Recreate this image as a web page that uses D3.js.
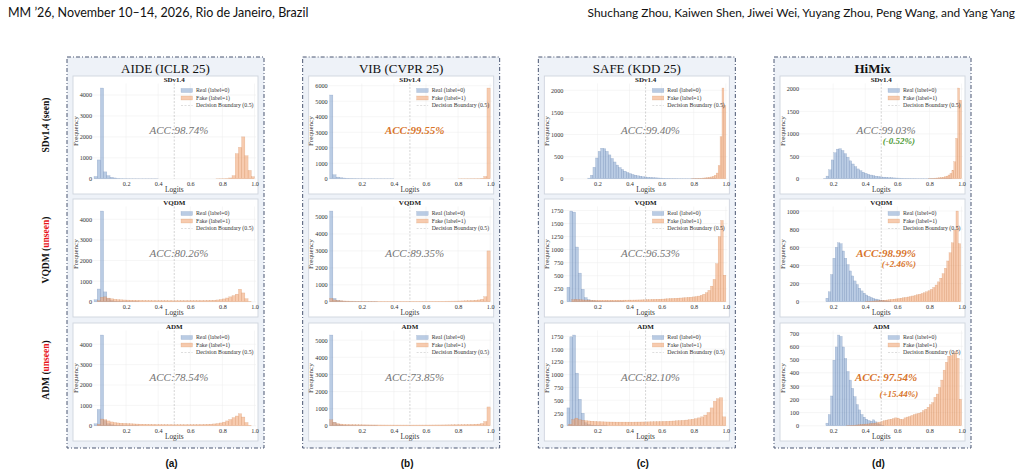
<!DOCTYPE html>
<html><head><meta charset="utf-8">
<script src="https://cdn.jsdelivr.net/npm/d3@7"></script>
<style>body{margin:0;background:#fff}svg{display:block}</style>
</head><body>
<svg id="fig" width="1021" height="474"></svg>
<script>
// ---------------- DATA ----------------
const headerLeft = "MM \u201926, November 10\u201314, 2026, Rio de Janeiro, Brazil";
const headerRight = "Shuchang Zhou, Kaiwen Shen, Jiwei Wei, Yuyang Zhou, Peng Wang, and Yang Yang";
const methodTitles = ["AIDE (ICLR 25)", "VIB (CVPR 25)", "SAFE (KDD 25)", "HiMix"];
const methodIsOurs = [false, false, false, true];
const datasetNames = ["SDv1.4", "VQDM", "ADM"];
const rowTags = ["seen", "unseen", "unseen"];
const panelLetters = ["(a)", "(b)", "(c)", "(d)"];
const legendLabels = ["Real (label=0)", "Fake (label=1)", "Decision Boundary (0.5)"];
const xTickValues = [0.2, 0.4, 0.6, 0.8, 1.0];
const yTickSteps = [[1000, 1000, 1000], [1000, 1000, 1000], [500, 250, 250], [500, 200, 100]];
const accLabels = [
  ["ACC:98.74%", "ACC:80.26%", "ACC:78.54%"],
  ["ACC:99.55%", "ACC:89.35%", "ACC:73.85%"],
  ["ACC:99.40%", "ACC:96.53%", "ACC:82.10%"],
  ["ACC:99.03%", "ACC:98.99%", "ACC: 97.54%"]
];
const accIsBest = [[false, false, false], [true, false, false], [false, false, false], [false, true, true]];
const deltaLabels = [[null, null, null], [null, null, null], [null, null, null], ["(-0.52%)", "(+2.46%)", "(+15.44%)"]];

// histogram counts (bin start / bin width given in realBins / fakeBins)
const aideSdReal = [110, 900, 4330, 330, 150, 70, 40, 25, 15, 10, 8, 6, 5, 4, 3, 3, 2, 2, 2, 2];
const aideSdFake = [5, 8, 10, 20, 40, 150, 1200, 1500, 2000, 1100, 400, 100];
const aideVqReal = [100, 620, 4400, 480, 150, 60, 30, 20, 15, 10, 8, 6, 5, 4];
const aideVqFake = [0, 60, 220, 240, 180, 145, 120, 105, 95, 88, 82, 78, 74, 70, 67, 64, 62, 60, 58, 57, 56, 55, 54, 53, 52, 52, 52, 53, 54, 55, 56, 57, 58, 60, 62, 65, 70, 78, 90, 110, 140, 185, 240, 300, 370, 610, 430, 150, 25, 0];
const aideAdReal = [100, 800, 4450, 250, 100, 50, 30, 20, 15, 10, 8, 6, 5, 4];
const aideAdFake = [0, 80, 330, 300, 240, 190, 160, 140, 125, 115, 105, 98, 92, 86, 80, 76, 72, 68, 65, 62, 60, 58, 56, 55, 54, 53, 52, 52, 53, 54, 55, 57, 59, 62, 66, 72, 80, 92, 110, 140, 180, 240, 310, 400, 480, 590, 430, 160, 30, 0];

const vibSdReal = [5400, 260, 110, 70, 50, 40, 30, 25, 20, 15, 12, 10, 10, 8, 8, 6, 6, 5, 5, 5];
const vibSdFake = [5, 6, 8, 10, 12, 15, 20, 40, 150, 5850];
const vibVqReal = [5350, 200, 80, 50, 35, 25, 20, 15, 12, 10, 8, 7, 6, 5, 5];
const vibVqFake = [200, 110, 75, 60, 50, 45, 40, 38, 36, 35, 34, 33, 32, 31, 30, 30, 30, 30, 30, 30, 30, 30, 30, 30, 30, 30, 30, 30, 30, 30, 31, 32, 33, 34, 35, 36, 38, 40, 42, 45, 48, 52, 58, 65, 75, 90, 110, 150, 300, 3000];
const vibAdReal = [5300, 200, 80, 50, 35, 25, 20, 15, 12, 10, 8, 7, 6, 5, 5];
const vibAdFake = [350, 200, 130, 100, 85, 75, 70, 65, 60, 58, 56, 54, 52, 50, 49, 48, 47, 46, 45, 45, 44, 44, 44, 44, 44, 44, 44, 44, 45, 45, 46, 47, 48, 49, 50, 52, 54, 56, 58, 60, 63, 66, 70, 75, 80, 90, 100, 130, 250, 1100];

const safeSdReal = [15, 80, 260, 470, 620, 690, 680, 620, 540, 460, 380, 310, 255, 210, 172, 142, 118, 98, 82, 68, 57, 48, 41, 35, 30, 26, 22, 19, 16, 14, 12, 10, 9, 8, 7, 6, 5, 5, 4, 4, 3, 3, 3, 2, 2, 2, 2, 2, 2, 2];
const safeSdFake = [5, 6, 8, 10, 12, 14, 17, 21, 26, 33, 42, 56, 80, 130, 300, 950, 2050, 1650];
const safeVqReal = [280, 1740, 1720, 1050, 550, 240, 80, 40, 25, 18, 14, 12, 10, 9, 8, 7, 6, 5, 5, 4];
const safeVqFake = [40, 45, 42, 38, 35, 33, 32, 31, 30, 30, 30, 30, 30, 30, 30, 30, 30, 30, 31, 31, 32, 32, 33, 33, 34, 35, 36, 37, 38, 40, 42, 44, 46, 48, 50, 52, 55, 58, 61, 64, 67, 70, 73, 76, 80, 84, 88, 94, 100, 110, 125, 145, 175, 220, 300, 430, 730, 1250, 1560, 510];
const safeAdReal = [350, 1740, 1775, 1030, 520, 245, 60, 25, 15, 10, 8, 6, 5, 4];
const safeAdFake = [30, 120, 150, 120, 110, 100, 95, 90, 85, 80, 78, 76, 75, 74, 73, 72, 72, 72, 72, 72, 72, 73, 74, 75, 76, 77, 78, 80, 82, 84, 86, 88, 91, 94, 98, 102, 106, 112, 120, 128, 140, 155, 175, 210, 260, 350, 480, 530, 550, 175];

const himixSdReal = [10, 60, 200, 420, 580, 660, 670, 630, 560, 480, 400, 330, 270, 220, 180, 148, 122, 100, 84, 70, 59, 50, 43, 37, 32, 27, 23, 20, 17, 15, 13, 11, 10, 9, 8, 7, 6, 5, 5, 4, 4, 3, 3, 3, 2, 2, 2, 2, 2, 2];
const himixSdFake = [8, 10, 12, 15, 18, 22, 28, 35, 45, 60, 85, 120, 190, 380, 900, 2020, 1750];
const himixVqReal = [40, 110, 300, 480, 600, 650, 640, 560, 480, 410, 340, 285, 230, 190, 150, 120, 95, 75, 60, 48, 38, 30, 24, 18, 14, 10, 8, 6];
const himixVqFake = [5, 6, 7, 8, 10, 12, 14, 16, 18, 20, 23, 26, 29, 32, 36, 40, 44, 48, 53, 58, 64, 70, 77, 84, 92, 100, 110, 122, 138, 158, 185, 220, 260, 310, 370, 450, 540, 650, 790, 1000, 640];
const himixAdReal = [20, 85, 225, 495, 595, 685, 675, 595, 508, 410, 345, 283, 220, 160, 120, 85, 65, 50, 40, 35, 45, 30, 15, 8, 4];
const himixAdFake = [2, 3, 4, 5, 6, 8, 10, 11, 13, 14, 16, 18, 20, 24, 28, 33, 38, 43, 47, 50, 55, 60, 58, 50, 48, 60, 66, 70, 78, 85, 90, 95, 100, 115, 125, 140, 160, 175, 215, 240, 290, 345, 420, 480, 525, 530, 545, 560, 510, 200];

// [bin start, bin width] for each histogram
const realBins = [
  [[0, 0.02], [0, 0.02], [0, 0.02]],
  [[0, 0.02], [0, 0.02], [0, 0.02]],
  [[0.14, 0.016], [0.01, 0.018], [0.01, 0.018]],
  [[0.14, 0.016], [0.155, 0.0145], [0.155, 0.0145]]
];
const fakeBins = [
  [[0.76, 0.02], [0, 0.02], [0, 0.02]],
  [[0.8, 0.02], [0, 0.02], [0, 0.02]],
  [[0.784, 0.012], [0.04, 0.016], [0.02, 0.0196]],
  [[0.796, 0.012], [0.4, 0.0145], [0.283, 0.01434]]
];
const realSeries = [[aideSdReal, aideVqReal, aideAdReal], [vibSdReal, vibVqReal, vibAdReal], [safeSdReal, safeVqReal, safeAdReal], [himixSdReal, himixVqReal, himixAdReal]];
const fakeSeries = [[aideSdFake, aideVqFake, aideAdFake], [vibSdFake, vibVqFake, vibAdFake], [safeSdFake, safeVqFake, safeAdFake], [himixSdFake, himixVqFake, himixAdFake]];

// ---------------- DRAW ----------------
const svg = d3.select("#fig");
const SERIF = "'Liberation Serif', 'Times New Roman', serif";
const SANS_HDR = "Lato, 'Open Sans', sans-serif";

svg.append("text").attr("x", 8).attr("y", 17).attr("font-family", SANS_HDR).attr("font-size", 12.5).attr("fill", "#111").text(headerLeft);
svg.append("text").attr("x", 1015).attr("y", 17).attr("text-anchor", "end").attr("font-family", SANS_HDR).attr("font-size", 11.9).attr("fill", "#111").text(headerRight);

const colX0 = 67, colStep = 235.67, boxW = 197, boxY = 57, boxH = 391;
const panelTops = [76, 199, 323], panelH = 118;
const rowCenters = [125, 250, 370];

const realFill = "rgba(130,162,206,0.55)", realEdge = "rgba(80,110,160,0.45)";
const fakeFill = "rgba(240,160,110,0.55)", fakeEdge = "rgba(200,115,60,0.45)";

// row labels
datasetNames.forEach((name, r) => {
  const t = svg.append("text")
    .attr("transform", `translate(49,${rowCenters[r]}) rotate(-90)`)
    .attr("text-anchor", "middle")
    .attr("font-family", SERIF).attr("font-weight", "bold").attr("font-size", 9.5).attr("fill", "#111");
  t.append("tspan").text(name + " (");
  t.append("tspan").attr("fill", rowTags[r] === "unseen" ? "#e8161b" : "#111").text(rowTags[r]);
  t.append("tspan").text(")");
});

methodTitles.forEach((title, c) => {
  const bx = colX0 + c * colStep;
  const g = svg.append("g");
  g.append("rect").attr("x", bx).attr("y", boxY).attr("width", boxW).attr("height", boxH)
    .attr("fill", "#eef2f8").attr("stroke", "#4a5672").attr("stroke-width", 1)
    .attr("stroke-dasharray", "4,2,1,2");
  g.append("text").attr("x", bx + boxW / 2).attr("y", 73).attr("text-anchor", "middle")
    .attr("font-family", SERIF).attr("font-size", 13)
    .attr("font-weight", methodIsOurs[c] ? "bold" : "normal").attr("fill", "#111").text(title);
  g.append("text").attr("x", bx + boxW / 2 + 6).attr("y", 467).attr("text-anchor", "middle")
    .attr("font-family", "'Liberation Sans', Arial, sans-serif").attr("font-weight", "bold")
    .attr("font-size", 10).attr("fill", "#111").text(panelLetters[c]);

  datasetNames.forEach((ds, r) => {
    const py = panelTops[r];
    g.append("rect").attr("x", bx + 6).attr("y", py).attr("width", boxW - 12).attr("height", panelH)
      .attr("fill", "#fff").attr("stroke", "#cfd5de").attr("stroke-width", 0.9);

    const L = bx + 27, R = L + 160.5;
    const top = py + 7.5, bot = py + 102.8;
    const real = realSeries[c][r], fake = fakeSeries[c][r];
    const ymax = Math.max(d3.max(real), d3.max(fake)) * 1.05;
    const x = d3.scaleLinear().domain([0, 1]).range([L, R]);
    const y = d3.scaleLinear().domain([0, ymax]).range([bot, top]);
    const yTicks = d3.range(0, ymax, yTickSteps[c][r]);

    // grid
    g.append("g").selectAll("line").data(yTicks).join("line")
      .attr("x1", x(-0.01)).attr("x2", x(1.01)).attr("y1", d => y(d)).attr("y2", d => y(d))
      .attr("stroke", "#ececec").attr("stroke-width", 0.5);
    g.append("g").selectAll("line").data(xTickValues).join("line")
      .attr("x1", d => x(d)).attr("x2", d => x(d)).attr("y1", top).attr("y2", bot)
      .attr("stroke", "#ececec").attr("stroke-width", 0.5);

    // bars
    const drawHist = (counts, spec, fill, edge) => {
      const [lo, w] = spec;
      g.append("g").selectAll("rect").data(counts.map((v, i) => ({ v, i })).filter(d => d.v > 0)).join("rect")
        .attr("x", d => x(lo + d.i * w))
        .attr("width", d => x(lo + (d.i + 1) * w) - x(lo + d.i * w))
        .attr("y", d => y(d.v))
        .attr("height", d => y(0) - y(d.v))
        .attr("fill", fill).attr("stroke", edge).attr("stroke-width", 0.35);
    };
    drawHist(real, realBins[c][r], realFill, realEdge);
    drawHist(fake, fakeBins[c][r], fakeFill, fakeEdge);

    // decision boundary
    g.append("line").attr("x1", x(0.5)).attr("x2", x(0.5)).attr("y1", top).attr("y2", bot)
      .attr("stroke", "#b8b8b8").attr("stroke-width", 0.6).attr("stroke-dasharray", "2,1.5");

    // axes
    const ax = g.append("g").attr("transform", `translate(0,${bot})`)
      .call(d3.axisBottom(x).tickValues(xTickValues).tickSize(0).tickPadding(3).tickFormat(d3.format(".1f")));
    const ay = g.append("g").attr("transform", `translate(${L - 1},0)`)
      .call(d3.axisLeft(y).tickValues(yTicks).tickSize(0).tickPadding(1).tickFormat(d3.format("d")));
    [ax, ay].forEach(a => {
      a.attr("font-family", SERIF);
      a.select(".domain").remove();
      a.selectAll("text").attr("font-family", SERIF).attr("font-size", 6.2).attr("fill", "#333");
    });
    g.append("text").attr("x", (L + R) / 2).attr("y", bot + 13).attr("text-anchor", "middle")
      .attr("font-family", SERIF).attr("font-size", 7.3).attr("fill", "#333").text("Logits");
    g.append("text").attr("transform", `translate(${L - 16.5},${(top + bot) / 2}) rotate(-90)`)
      .attr("text-anchor", "middle").attr("font-family", SERIF).attr("font-size", 7).attr("fill", "#333").text("Frequency");
    g.append("text").attr("x", x(0.5)).attr("y", py + 6.2).attr("text-anchor", "middle")
      .attr("font-family", SERIF).attr("font-weight", "bold").attr("font-size", 7).attr("fill", "#222").text(ds);

    // legend
    const lx = L + 87;
    const items = [
      { label: legendLabels[0], fill: realFill, edge: realEdge },
      { label: legendLabels[1], fill: fakeFill, edge: fakeEdge },
      { label: legendLabels[2], line: true }
    ];
    items.forEach((it, k) => {
      const cy = top + 7 + k * 7.5;
      if (it.line) {
        g.append("line").attr("x1", lx).attr("x2", lx + 11.5).attr("y1", cy).attr("y2", cy)
          .attr("stroke", "#c8c8c8").attr("stroke-width", 0.6).attr("stroke-dasharray", "2,1.5");
      } else {
        g.append("rect").attr("x", lx).attr("y", cy - 2).attr("width", 11.5).attr("height", 4)
          .attr("fill", it.fill).attr("stroke", it.edge).attr("stroke-width", 0.35);
      }
      g.append("text").attr("x", lx + 15).attr("y", cy + 1.9).attr("font-family", SERIF)
        .attr("font-size", 5.8).attr("fill", "#333").text(it.label);
    });

    // accuracy
    const best = accIsBest[c][r];
    const accColor = best ? "#d8752b" : "#757575";
    g.append("text").attr("x", x(0.53)).attr("y", top + 0.49 * (bot - top)).attr("dy", "0.35em")
      .attr("text-anchor", "middle").attr("font-family", SERIF).attr("font-style", "italic")
      .attr("font-weight", best ? "bold" : "normal").attr("font-size", 11).attr("fill", accColor)
      .text(accLabels[c][r]);
    const delta = deltaLabels[c][r];
    if (delta) {
      const dColor = delta.startsWith("(-") ? "#4f9a35" : "#d8752b";
      g.append("text").attr("x", x(0.61)).attr("y", top + (r === 2 ? 0.66 : 0.6) * (bot - top)).attr("dy", "0.35em")
        .attr("text-anchor", "middle").attr("font-family", SERIF).attr("font-style", "italic")
        .attr("font-weight", "bold").attr("font-size", 9).attr("fill", dColor).text(delta);
    }
  });
});
</script>
</body></html>
